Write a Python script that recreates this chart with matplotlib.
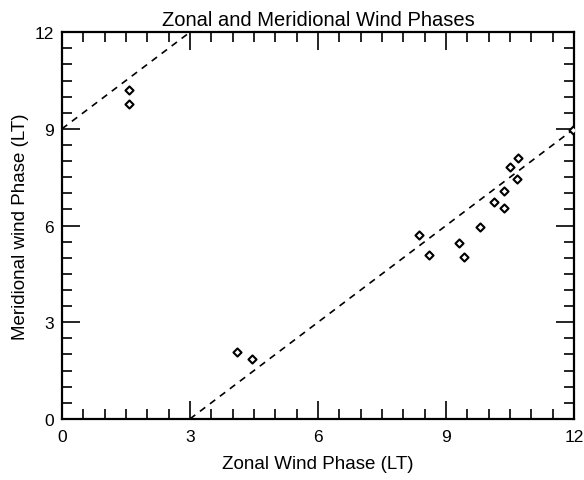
import matplotlib as mpl
mpl.use("Agg")
import matplotlib.pyplot as plt
from matplotlib.ticker import MultipleLocator

plt.rcParams['font.family'] = ['Liberation Sans', 'DejaVu Sans']

# phase pairs (local time, hours)
zonal_phase = [1.58, 1.58, 4.11, 4.46, 8.37, 8.60, 9.30, 9.41, 9.80,
               10.12, 10.35, 10.35, 10.50, 10.67, 10.68, 11.97]
merid_phase = [10.21, 9.78, 2.07, 1.87, 5.71, 5.09, 5.46, 5.01, 5.97,
               6.72, 6.54, 7.08, 7.82, 7.44, 8.10, 8.95]

# reference lines: meridional = zonal - 3 (mod 12)
line_x1 = [0, 3]
line_y1 = [9, 12]
line_x2 = [3, 12]
line_y2 = [0, 9]

fig = plt.figure(figsize=(5.84, 4.81), dpi=100)
ax = fig.add_axes([0.106, 0.127, 0.877, 0.804])

ax.plot(line_x1, line_y1, color="black", linestyle=(0, (4, 3.5)), linewidth=1.2)
ax.plot(line_x2, line_y2, color="black", linestyle=(0, (4, 3.5)), linewidth=1.2)
ax.scatter(zonal_phase, merid_phase, marker="D", s=17, facecolors="white",
           edgecolors="black", linewidths=1.5, zorder=3)

ax.set_xlim(0, 12)
ax.set_ylim(0, 12)
ax.xaxis.set_major_locator(MultipleLocator(3))
ax.yaxis.set_major_locator(MultipleLocator(3))
ax.xaxis.set_minor_locator(MultipleLocator(0.5))
ax.yaxis.set_minor_locator(MultipleLocator(0.5))
ax.tick_params(which="both", direction="in", top=True, right=True,
               labelsize=12.5, width=1.2)
ax.tick_params(axis="x", pad=7)
ax.tick_params(axis="y", pad=6)
ax.tick_params(which="major", length=13)
ax.tick_params(which="minor", length=7)
for s in ax.spines.values():
    s.set_linewidth(1.6)

ax.set_title("Zonal and Meridional Wind Phases", fontsize=14.5, pad=5)
ax.set_xlabel("Zonal Wind Phase (LT)", fontsize=13.5, labelpad=8)
ax.set_ylabel("Meridional wind Phase (LT)", fontsize=13.5, labelpad=4)

fig.savefig("out.png", dpi=100)
